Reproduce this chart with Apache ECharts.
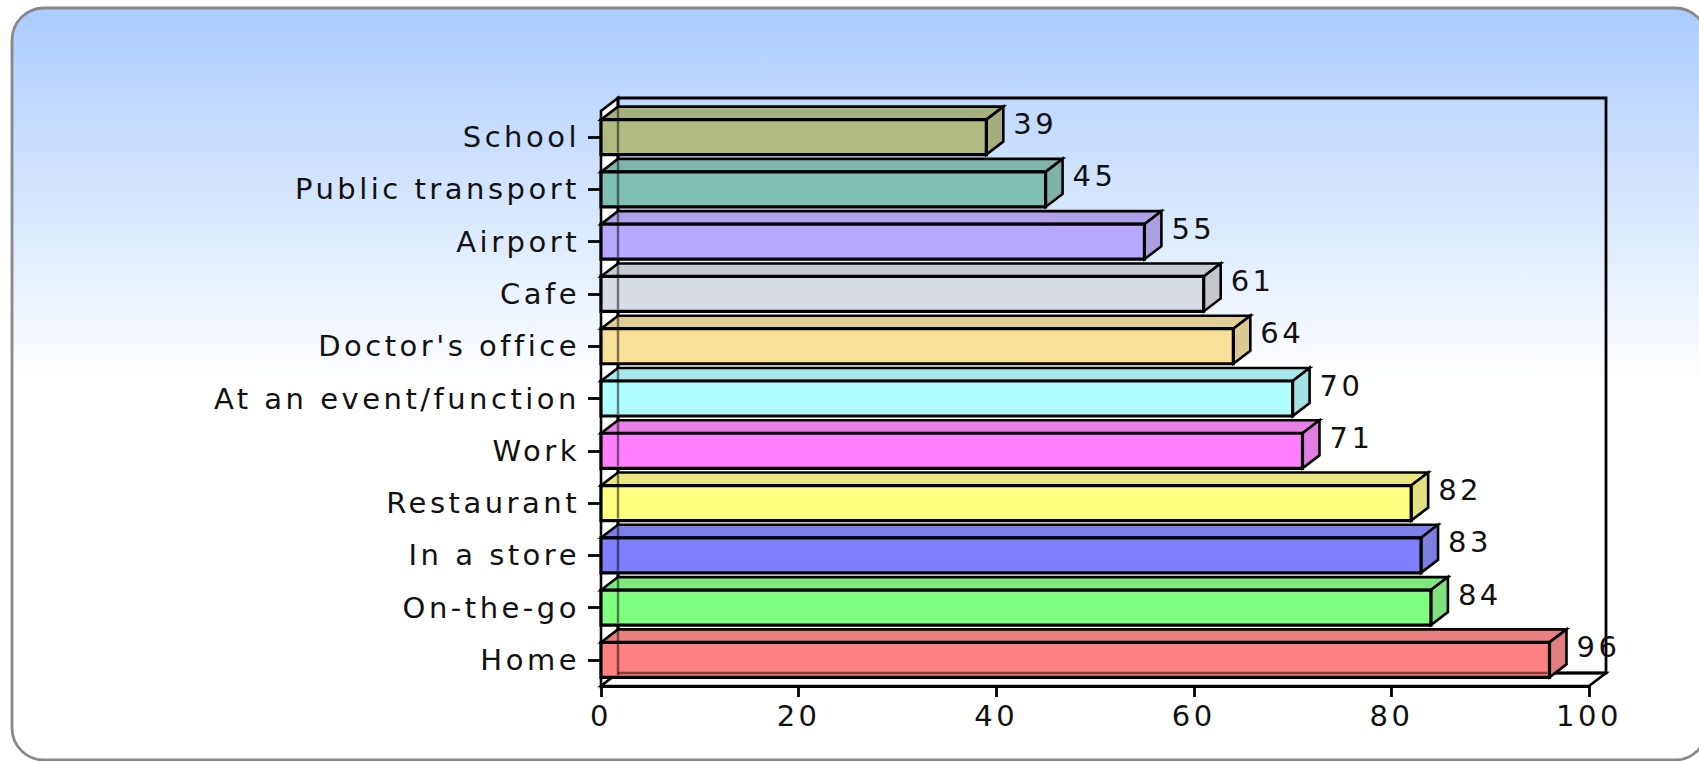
<!DOCTYPE html>
<html>
<head>
<meta charset="utf-8">
<script src="https://cdn.jsdelivr.net/npm/echarts@6/dist/echarts.min.js"></script>
<style>
  html, body { margin: 0; padding: 0; background: #ffffff; }
  #chart { width: 1699px; height: 761px; }
  #chart text { letter-spacing: 3.5px; }
</style>
</head>
<body>
<div id="chart"></div>
<script>
// ---- data (bottom to top, as the category axis runs) ----
const categories = ['Home', 'On-the-go', 'In a store', 'Restaurant', 'Work',
  'At an event/function', "Doctor's office", 'Cafe', 'Airport', 'Public transport', 'School'];
const values = [96, 84, 83, 82, 71, 70, 64, 61, 55, 45, 39];
const xMin = 0, xMax = 100, xStep = 20;

// ---- styling ----
const frontColors = ['#ff8080', '#80ff80', '#8080ff', '#ffff80', '#ff80ff',
  '#b0ffff', '#f8e098', '#d8dce4', '#b8a8ff', '#80c0b3', '#afbb80'];
const DX = 17, DY = -13;
const FONT = 'DejaVu Sans';

function shade(hex, k) {
  const n = parseInt(hex.slice(1), 16);
  const ch = [(n >> 16) & 255, (n >> 8) & 255, n & 255].map(c => {
    const v = c > 128 ? 128 + (c - 128) * k : c * (0.94 + 0.06 * k);
    return Math.round(Math.max(0, Math.min(255, v)));
  });
  return 'rgb(' + ch.join(',') + ')';
}

const chart = echarts.init(document.getElementById('chart'), null, { renderer: 'svg' });

function renderFrame(params, api) {
  const band = api.size([0, 1])[1];
  const n = categories.length;
  const x0 = api.coord([xMin, 0])[0];
  const x1 = api.coord([xMax, 0])[0];
  const yBot = api.coord([xMin, 0])[1] + band / 2;
  const yTop = api.coord([xMin, n - 1])[1] - band / 2;
  const st = { fill: '#ffffff', stroke: '#000', lineWidth: 2.6 };
  return {
    type: 'group',
    children: [
      { type: 'polygon', shape: { points: [[x0, yTop], [x0 + DX, yTop + DY], [x0 + DX, yBot + DY], [x0, yBot]] }, style: st },
      { type: 'polygon', shape: { points: [[x0, yBot], [x0 + DX, yBot + DY], [x1 + DX, yBot + DY], [x1, yBot]] }, style: st },
      { type: 'rect', shape: { x: x0 + DX, y: yTop + DY, width: x1 - x0, height: yBot - yTop }, style: { fill: 'none', stroke: '#000', lineWidth: 2.8 } }
    ]
  };
}

function renderBar(params, api) {
  const cat = api.value(0), val = api.value(1);
  const p0 = api.coord([xMin, cat]);
  const p1 = api.coord([val, cat]);
  const band = api.size([0, 1])[1];
  const h = band * 0.67;
  const top = p0[1] - h / 2, bot = p0[1] + h / 2;
  const x0 = p0[0], x1 = p1[0];
  const c = frontColors[params.dataIndex];
  const floorY = api.coord([xMin, 0])[1] + band / 2 + DY;
  const children = [
    { type: 'polygon', shape: { points: [[x0, top], [x1, top], [x1 + DX, top + DY], [x0 + DX, top + DY]] },
      style: { fill: shade(c, 0.82), stroke: '#000', lineWidth: 2.6 } },
    { type: 'polygon', shape: { points: [[x1, top], [x1 + DX, top + DY], [x1 + DX, bot + DY], [x1, bot]] },
      style: { fill: shade(c, 0.76), stroke: '#000', lineWidth: 2.6 } },
    { type: 'rect', shape: { x: x0, y: top, width: x1 - x0, height: h },
      style: { fill: c, stroke: '#000', lineWidth: 3.2 } },
    { type: 'line', shape: { x1: x0 + DX, y1: top + DY + 1.5, x2: x0 + DX, y2: bot - 2 },
      style: { stroke: 'rgba(0,0,0,0.5)', lineWidth: 2.4 } }
  ];
  if (floorY > top + 2 && floorY < bot - 1) {
    children.push({ type: 'line', shape: { x1: x0 + DX, y1: floorY, x2: x1 - 2, y2: floorY },
      style: { stroke: 'rgba(0,0,0,0.5)', lineWidth: 2.4 } });
  }
  children.push({ type: 'text', style: {
    text: String(val), x: x1 + DX + 10, y: p0[1] + DY,
    align: 'left', verticalAlign: 'middle',
    fill: '#111', font: '29px "' + FONT + '"' } });
  return { type: 'group', children: children };
}

const barData = values.map((v, i) => [i, v]);

chart.setOption({
  backgroundColor: '#ffffff',
  animation: false,
  graphic: [{
    type: 'rect', z: -100, silent: true,
    shape: { x: 12, y: 8, width: 1695, height: 752, r: 32 },
    style: {
      fill: new echarts.graphic.LinearGradient(0, 0, 0, 1, [
        { offset: 0, color: '#aaccff' },
        { offset: 0.5, color: '#ffffff' },
        { offset: 1, color: '#ffffff' }
      ]),
      stroke: '#888888', lineWidth: 2.8
    }
  }],
  grid: { left: 601, top: 111, width: 988, height: 575, containLabel: false },
  xAxis: {
    type: 'value', min: xMin, max: xMax, interval: xStep,
    axisLine: { show: true, lineStyle: { color: '#000', width: 2.8 } },
    axisTick: { show: true, length: 11, lineStyle: { color: '#000', width: 2.8 } },
    axisLabel: { margin: 15, color: '#111', fontSize: 29, fontFamily: FONT },
    splitLine: { show: false }
  },
  yAxis: {
    type: 'category', data: categories,
    axisLine: { show: true, lineStyle: { color: '#000', width: 2.8 } },
    axisTick: { show: true, length: 13, alignWithLabel: true, lineStyle: { color: '#000', width: 2.8 } },
    axisLabel: { margin: 21, color: '#111', fontSize: 29, fontFamily: FONT },
    splitLine: { show: false }
  },
  series: [
    { type: 'custom', name: 'frame', z: 1, silent: true, data: [[0, 0]],
      encode: { x: 1, y: 0 }, renderItem: renderFrame },
    { type: 'custom', name: 'bars', z: 3, data: barData,
      encode: { x: 1, y: 0 }, renderItem: renderBar }
  ]
});
</script>
</body>
</html>
